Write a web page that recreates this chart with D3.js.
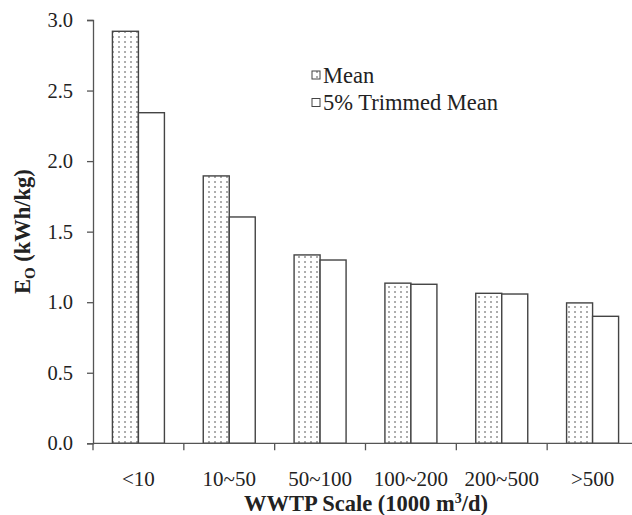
<!DOCTYPE html>
<html>
<head>
<meta charset="utf-8">
<script src="https://cdn.jsdelivr.net/npm/d3@7"></script>
<style>
  html, body { margin: 0; padding: 0; background: #fff; }
  svg { display: block; }
  svg text { font-family: "Liberation Serif", "Times New Roman", Times, "DejaVu Serif", serif; }
</style>
</head>
<body>
<div id="chart"></div>
<script>
// chart data
const categories = ['<10', '10~50', '50~100', '100~200', '200~500', '>500'];
const meanValues = [2.92, 1.895, 1.335, 1.135, 1.063, 0.995];
const trimmedValues = [2.343, 1.604, 1.299, 1.127, 1.058, 0.9];
const seriesNames = ['Mean', '5% Trimmed Mean'];
const yTicks = [0, 0.5, 1, 1.5, 2, 2.5, 3];

const width = 632;
const height = 515;
const margin = { top: 20, right: -6, bottom: 72, left: 93 };
const serif = '"Liberation Serif", "Times New Roman", Times, "DejaVu Serif", serif';

const svg = d3.select('#chart')
  .append('svg')
  .attr('width', width)
  .attr('height', height);

// dotted fill used for the Mean bars
const defs = svg.append('defs');
const dots = defs.append('pattern')
  .attr('id', 'dots')
  .attr('patternUnits', 'userSpaceOnUse')
  .attr('width', 6)
  .attr('height', 5);
dots.append('rect').attr('width', 6).attr('height', 5).attr('fill', '#fff');
dots.append('circle').attr('cx', 5).attr('cy', 2).attr('r', 0.75).attr('fill', '#333');

const x = d3.scaleBand()
  .domain(categories)
  .range([margin.left, width - margin.right])
  .padding(0);

const y = d3.scaleLinear()
  .domain([0, 3])
  .range([height - margin.bottom + 0.3, margin.top]);

const barW = 26;
const seriesData = [meanValues, trimmedValues];

// bars
seriesData.forEach((vals, s) => {
  svg.append('g')
    .selectAll('rect')
    .data(categories)
    .join('rect')
    .attr('x', d => x(d) + (x.bandwidth() - 2 * barW) / 2 + s * barW)
    .attr('y', (d, i) => y(vals[i]))
    .attr('width', barW)
    .attr('height', (d, i) => y(0) - y(vals[i]))
    .attr('fill', s === 0 ? 'url(#dots)' : '#fff')
    .attr('stroke', '#444')
    .attr('stroke-width', 1.4);
});

// y axis
const yAxis = svg.append('g')
  .attr('transform', `translate(${margin.left},0)`)
  .call(d3.axisLeft(y).tickValues(yTicks).tickFormat(d3.format('.1f')).tickSize(6).tickPadding(14));
yAxis.attr('font-family', serif).attr('font-size', 20.5);
yAxis.select('.domain').attr('stroke', '#555').attr('stroke-width', 1.3);
yAxis.selectAll('.tick line').attr('stroke', '#555').attr('stroke-width', 1.3);
yAxis.selectAll('.tick text').attr('fill', '#222');

// x axis: line, boundary ticks, category labels
const xAxis = svg.append('g').attr('transform', `translate(0,${y(0)})`);
xAxis.append('line')
  .attr('x1', margin.left).attr('x2', width)
  .attr('stroke', '#555').attr('stroke-width', 1.3);
xAxis.selectAll('.bt')
  .data(categories)
  .join('line')
  .attr('x1', d => x(d)).attr('x2', d => x(d))
  .attr('y1', 0).attr('y2', 7)
  .attr('stroke', '#555').attr('stroke-width', 1.3);
xAxis.selectAll('.lbl')
  .data(categories)
  .join('text')
  .attr('x', d => x(d) + x.bandwidth() / 2)
  .attr('y', 43)
  .attr('text-anchor', 'middle')
  .attr('fill', '#222')
  .attr('font-size', 21)
  .text(d => d);

// axis titles
const xTitle = svg.append('text')
  .attr('x', 366)
  .attr('y', 511)
  .attr('text-anchor', 'middle')
  .attr('fill', '#222')
  .attr('font-size', 22.5)
  .attr('font-weight', 'bold');
xTitle.append('tspan').text('WWTP Scale (1000 m');
xTitle.append('tspan').attr('dy', -8).attr('font-size', 14).text('3');
xTitle.append('tspan').attr('dy', 8).text('/d)');

const yTitle = svg.append('text')
  .attr('transform', `translate(30,${(margin.top + y(0)) / 2}) rotate(-90)`)
  .attr('text-anchor', 'middle')
  .attr('fill', '#222')
  .attr('font-size', 22.5)
  .attr('font-weight', 'bold');
yTitle.append('tspan').text('E');
yTitle.append('tspan').attr('dy', 5).attr('font-size', 15).text('O');
yTitle.append('tspan').attr('dy', -5).text(' (kWh/kg)');

// legend
const legend = svg.append('g').attr('transform', 'translate(312,0)');
seriesNames.forEach((name, i) => {
  const cy = 75 + i * 27.5;
  legend.append('rect')
    .attr('x', 0).attr('y', cy - 4)
    .attr('width', 8).attr('height', 8)
    .attr('fill', i === 0 ? 'url(#dots)' : '#fff')
    .attr('stroke', '#444')
    .attr('stroke-width', 1);
  legend.append('text')
    .attr('x', 11).attr('y', cy + 7.5)
    .attr('fill', '#222')
    .attr('font-size', 22.5)
    .text(name);
});
</script>
</body>
</html>
